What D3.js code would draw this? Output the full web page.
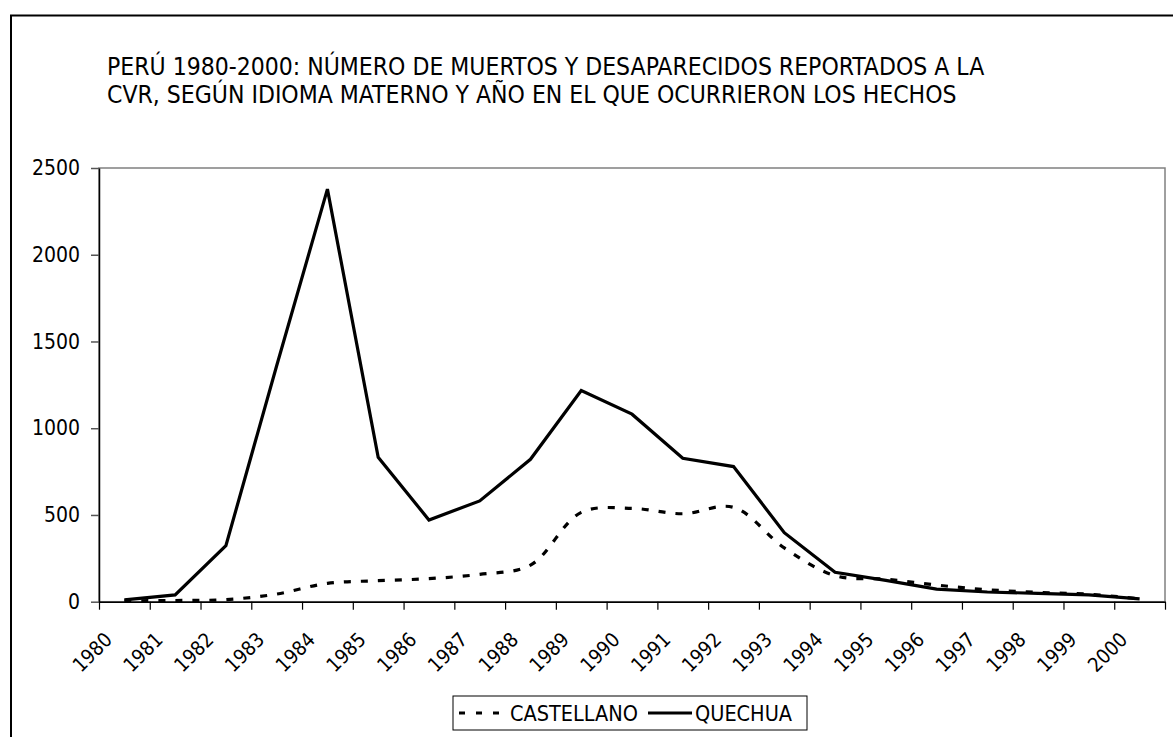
<!DOCTYPE html>
<html>
<head>
<meta charset="utf-8">
<script src="https://cdn.jsdelivr.net/npm/d3@7"></script>
<style>
  body { margin: 0; background: #fff; }
  svg { display: block; }
  text { font-family: "DejaVu Sans Condensed", "DejaVu Sans", sans-serif; fill: #000; }
</style>
</head>
<body>
<div id="vis"></div>
<script>
// data
const YEARS = ["1980", "1981", "1982", "1983", "1984", "1985", "1986", "1987", "1988", "1989", "1990",
               "1991", "1992", "1993", "1994", "1995", "1996", "1997", "1998", "1999", "2000"];
const CASTELLANO = [5, 7, 12, 44, 106, 121, 133, 158, 211, 515, 538, 507, 544, 310, 150, 130, 96, 69, 54, 43, 17];
const QUECHUA = [10, 39, 323, 1360, 2378, 833, 471, 581, 821, 1217, 1081, 827, 779, 398, 170, 123, 73, 56, 48, 39, 16];
const Y_TICKS = [0, 500, 1000, 1500, 2000, 2500];
const TITLE = ["PERÚ 1980-2000: NÚMERO DE MUERTOS Y DESAPARECIDOS REPORTADOS A LA",
               "CVR, SEGÚN IDIOMA MATERNO Y AÑO EN EL QUE OCURRIERON LOS HECHOS"];
const SERIES_NAMES = ["CASTELLANO", "QUECHUA"];

// frame
const FRAME_WIDTH = 1173;
const FRAME_HEIGHT = 737;
const PLOT = {left: 99, right: 1165, top: 168, bottom: 601.7};

const FRAME = d3.select("#vis")
                .append("svg")
                  .attr("width", FRAME_WIDTH)
                  .attr("height", FRAME_HEIGHT);

// outer chart border (runs off the right and bottom of the picture)
FRAME.append("rect")
      .attr("x", 11)
      .attr("y", 15.5)
      .attr("width", 1200)
      .attr("height", 800)
      .attr("fill", "none")
      .attr("stroke", "#000")
      .attr("stroke-width", 2);

// title
FRAME.append("text")
      .attr("x", 107)
      .attr("y", 75)
      .attr("font-size", "24.5px")
    .selectAll("tspan")
    .data(TITLE)
    .enter()
    .append("tspan")
      .attr("x", 107)
      .attr("dy", (d, i) => i === 0 ? 0 : 28)
      .text((d) => d);

// scales
const X_SCALE = d3.scaleBand()
                  .domain(YEARS)
                  .range([PLOT.left, PLOT.right])
                  .padding(0);

const X_EDGES = d3.scaleLinear()
                  .domain([0, YEARS.length])
                  .range([PLOT.left, PLOT.right]);

const Y_SCALE = d3.scaleLinear()
                  .domain([0, 2500])
                  .range([PLOT.bottom, PLOT.top]);

const xc = (d) => X_SCALE(d) + X_SCALE.bandwidth() / 2;

// plot area border (grey, top and right)
FRAME.append("rect")
      .attr("x", PLOT.left)
      .attr("y", PLOT.top)
      .attr("width", PLOT.right - PLOT.left)
      .attr("height", PLOT.bottom - PLOT.top)
      .attr("fill", "none")
      .attr("stroke", "#808080")
      .attr("stroke-width", 1.5);

// y axis
const yAxis = FRAME.append("g")
      .attr("transform", "translate(" + PLOT.left + ",0)")
      .call(d3.axisLeft(Y_SCALE).tickValues(Y_TICKS).tickFormat(d3.format("d"))
              .tickSize(8).tickPadding(11).tickSizeOuter(0));
yAxis.select(".domain").attr("stroke", "#000").attr("stroke-width", 1.5);
yAxis.selectAll(".tick line").attr("stroke", "#555").attr("stroke-width", 1.5);
yAxis.selectAll("text").attr("font-size", "21px").attr("font-family", null);

// x axis: ticks between categories
const xAxis = FRAME.append("g")
      .attr("transform", "translate(0," + PLOT.bottom + ")")
      .call(d3.axisBottom(X_EDGES).tickValues(d3.range(YEARS.length + 1)).tickSize(8).tickFormat("").tickSizeOuter(0));
xAxis.select(".domain").attr("stroke", "#000").attr("stroke-width", 1.5);
xAxis.selectAll(".tick line").attr("stroke", "#000").attr("stroke-width", 1.2);

// rotated year labels
FRAME.append("g")
    .selectAll("text")
    .data(YEARS)
    .enter()
    .append("text")
      .attr("transform", (d) => "translate(" + (xc(d) - 11) + "," + 641 + ") rotate(-45)")
      .attr("text-anchor", "end")
      .attr("font-size", "20px")
      .text((d) => d);

// lines
const castellanoLine = d3.line()
      .x((d, i) => xc(YEARS[i]))
      .y((d) => Y_SCALE(d))
      .curve(d3.curveCatmullRom.alpha(0.5));

const quechuaLine = d3.line()
      .x((d, i) => xc(YEARS[i]))
      .y((d) => Y_SCALE(d));

FRAME.append("path")
      .datum(CASTELLANO)
      .attr("d", castellanoLine)
      .attr("fill", "none")
      .attr("stroke", "#000")
      .attr("stroke-width", 3.2)
      .attr("stroke-dasharray", "7,10");

FRAME.append("path")
      .datum(QUECHUA)
      .attr("d", quechuaLine)
      .attr("fill", "none")
      .attr("stroke", "#000")
      .attr("stroke-width", 3.2)
      .attr("stroke-linejoin", "miter");

// legend
const LEGEND = FRAME.append("g");
LEGEND.append("rect")
      .attr("x", 453)
      .attr("y", 696)
      .attr("width", 354)
      .attr("height", 34)
      .attr("fill", "#fff")
      .attr("stroke", "#000")
      .attr("stroke-width", 1);

LEGEND.append("line")
      .attr("x1", 459).attr("x2", 507)
      .attr("y1", 713).attr("y2", 713)
      .attr("stroke", "#000")
      .attr("stroke-width", 3.2)
      .attr("stroke-dasharray", "6,11");

LEGEND.append("line")
      .attr("x1", 648).attr("x2", 692)
      .attr("y1", 713).attr("y2", 713)
      .attr("stroke", "#000")
      .attr("stroke-width", 3.2);

LEGEND.selectAll(".ltext")
    .data(SERIES_NAMES)
    .enter()
    .append("text")
      .attr("class", "ltext")
      .attr("x", (d, i) => i === 0 ? 510 : 695)
      .attr("y", 721)
      .attr("font-size", "21.5px")
      .text((d) => d);
</script>
</body>
</html>
